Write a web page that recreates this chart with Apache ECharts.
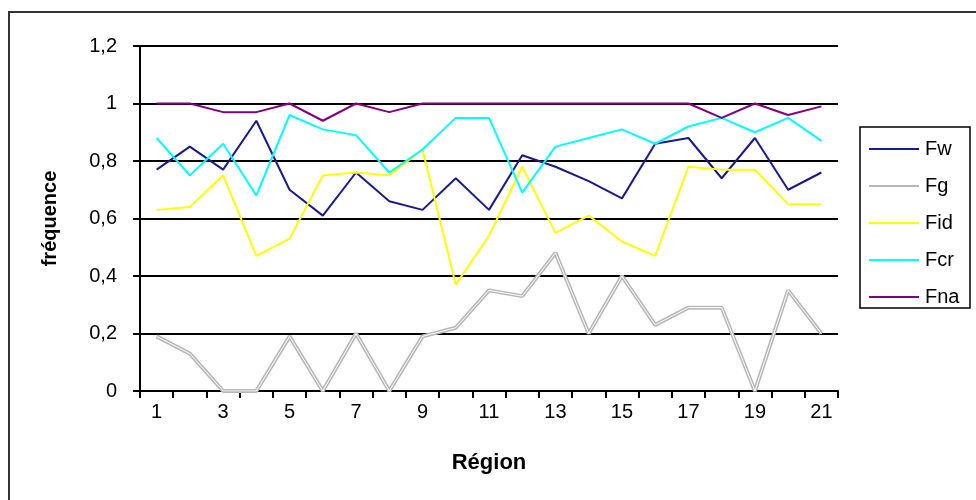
<!DOCTYPE html>
<html>
<head>
<meta charset="utf-8">
<script src="https://cdn.jsdelivr.net/npm/echarts@6/dist/echarts.min.js"></script>
<style>
  html, body { margin: 0; padding: 0; background: #fff; }
  #chart { width: 976px; height: 500px; }
</style>
</head>
<body>
<div id="chart"></div>
<script>
// Régions 1 à 21
const regions = ['1','2','3','4','5','6','7','8','9','10','11','12','13','14','15','16','17','18','19','20','21'];

// Fréquences par région
const Fw  = [0.77, 0.85, 0.77, 0.94, 0.70, 0.61, 0.76, 0.66, 0.63, 0.74, 0.63, 0.82, 0.78, 0.73, 0.67, 0.86, 0.88, 0.74, 0.88, 0.70, 0.76];
const Fg  = [0.19, 0.13, 0.00, 0.00, 0.19, 0.00, 0.20, 0.00, 0.19, 0.22, 0.35, 0.33, 0.48, 0.20, 0.40, 0.23, 0.29, 0.29, 0.00, 0.35, 0.20];
const Fid = [0.63, 0.64, 0.75, 0.47, 0.53, 0.75, 0.76, 0.75, 0.84, 0.37, 0.54, 0.78, 0.55, 0.61, 0.52, 0.47, 0.78, 0.77, 0.77, 0.65, 0.65];
const Fcr = [0.88, 0.75, 0.86, 0.68, 0.96, 0.91, 0.89, 0.76, 0.84, 0.95, 0.95, 0.69, 0.85, 0.88, 0.91, 0.86, 0.92, 0.95, 0.90, 0.95, 0.87];
const Fna = [1.00, 1.00, 0.97, 0.97, 1.00, 0.94, 1.00, 0.97, 1.00, 1.00, 1.00, 1.00, 1.00, 1.00, 1.00, 1.00, 1.00, 0.95, 1.00, 0.96, 0.99];

const yTicks = [0, 0.2, 0.4, 0.6, 0.8, 1, 1.2];

const font = 'Liberation Sans, Arial, sans-serif';

const chart = echarts.init(document.getElementById('chart'), null, { renderer: 'canvas' });

function line(name, data, color, width, z) {
  return {
    name: name,
    type: 'line',
    data: data,
    symbol: 'none',
    z: z || 2,
    animation: false,
    lineStyle: { color: color, width: width },
    itemStyle: { color: color }
  };
}

// Fg drawn as a hollow double line: grey body with a white core
const fgCore = line('Fg-core', Fg, '#ffffff', 1, 3);
fgCore.silent = true;

chart.setOption({
  animation: false,
  backgroundColor: '#ffffff',
  grid: { left: 140, right: 138, top: 46, bottom: 109, containLabel: false },
  graphic: [
    {
      type: 'rect',
      shape: { x: 9, y: 12, width: 1000, height: 1000 },
      style: { fill: 'none', stroke: '#333333', lineWidth: 2 },
      silent: true
    },
    {
      type: 'rect',
      shape: { x: 860, y: 127, width: 110, height: 181 },
      style: { fill: '#ffffff', stroke: '#000000', lineWidth: 1.5 },
      z: 0,
      silent: true
    }
  ],
  legend: {
    orient: 'vertical',
    left: 869,
    top: 139,
    padding: 0,
    icon: 'rect',
    itemWidth: 50,
    itemHeight: 2,
    itemGap: 17,
    data: ['Fw', 'Fg', 'Fid', 'Fcr', 'Fna'],
    textStyle: { fontFamily: font, fontSize: 20, color: '#000', padding: [0, 0, 0, 1] },
    selectedMode: false,
    z: 10
  },
  xAxis: {
    type: 'category',
    data: regions,
    boundaryGap: true,
    name: 'Région',
    nameLocation: 'middle',
    nameGap: 61,
    nameTextStyle: { fontFamily: font, fontSize: 22, fontWeight: 'bold', color: '#000' },
    axisLine: { show: true, onZero: false, lineStyle: { color: '#000', width: 2 } },
    axisTick: { show: true, interval: 0, length: 7, lineStyle: { color: '#000', width: 2 } },
    axisLabel: { interval: 1, margin: 11, fontFamily: font, fontSize: 20, color: '#000' },
    splitLine: { show: false }
  },
  yAxis: {
    type: 'value',
    min: 0,
    max: 1.2,
    interval: 0.2,
    name: 'fréquence',
    nameLocation: 'middle',
    nameGap: 80,
    nameRotate: 90,
    nameTextStyle: { fontFamily: font, fontSize: 20, fontWeight: 'bold', color: '#000' },
    axisLine: { show: true, lineStyle: { color: '#000', width: 2 } },
    axisTick: { show: true, length: 7, lineStyle: { color: '#000', width: 2 } },
    axisLabel: {
      margin: 23,
      fontFamily: font,
      fontSize: 20,
      color: '#000',
      formatter: function (v) {
        const t = yTicks.find(function (k) { return Math.abs(k - v) < 1e-9; });
        return String(t !== undefined ? t : v).replace('.', ',');
      }
    },
    splitLine: { show: true, lineStyle: { color: '#000', width: 2 } }
  },
  series: [
    line('Fw', Fw, '#1a1a8c', 2),
    line('Fg', Fg, '#b8b8b8', 4),
    fgCore,
    line('Fid', Fid, '#ffff00', 2),
    line('Fcr', Fcr, '#00ffff', 2),
    line('Fna', Fna, '#800080', 2)
  ]
});
</script>
</body>
</html>
